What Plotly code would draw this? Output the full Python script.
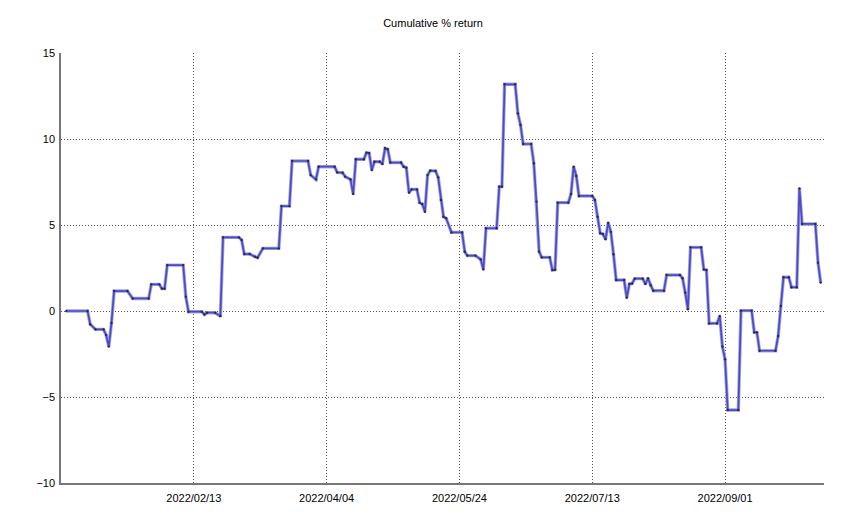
import plotly.graph_objects as go

dates = [
    "2021-12-27", "2022-01-04", "2022-01-05", "2022-01-07", "2022-01-10", "2022-01-11",
    "2022-01-12", "2022-01-13", "2022-01-14", "2022-01-19", "2022-01-21", "2022-01-27",
    "2022-01-28", "2022-01-31", "2022-02-01", "2022-02-02", "2022-02-03", "2022-02-09",
    "2022-02-10", "2022-02-11", "2022-02-16", "2022-02-17", "2022-02-18", "2022-02-21",
    "2022-02-23", "2022-02-24", "2022-03-02", "2022-03-03", "2022-03-04", "2022-03-06",
    "2022-03-08", "2022-03-09", "2022-03-11", "2022-03-17", "2022-03-18", "2022-03-21",
    "2022-03-22", "2022-03-28", "2022-03-29", "2022-03-31", "2022-04-01", "2022-04-07",
    "2022-04-08", "2022-04-10", "2022-04-11", "2022-04-13", "2022-04-14", "2022-04-15",
    "2022-04-18", "2022-04-19", "2022-04-20", "2022-04-21", "2022-04-22", "2022-04-24",
    "2022-04-25", "2022-04-26", "2022-04-27", "2022-04-28", "2022-05-02", "2022-05-03",
    "2022-05-04", "2022-05-05", "2022-05-06", "2022-05-08", "2022-05-09", "2022-05-10",
    "2022-05-11", "2022-05-12", "2022-05-13", "2022-05-15", "2022-05-16", "2022-05-17",
    "2022-05-18", "2022-05-19", "2022-05-21", "2022-05-25", "2022-05-26", "2022-05-27",
    "2022-05-30", "2022-06-01", "2022-06-02", "2022-06-03", "2022-06-07", "2022-06-08",
    "2022-06-09", "2022-06-10", "2022-06-14", "2022-06-15", "2022-06-16", "2022-06-17",
    "2022-06-20", "2022-06-21", "2022-06-22", "2022-06-23", "2022-06-24", "2022-06-27",
    "2022-06-28", "2022-06-29", "2022-06-30", "2022-07-04", "2022-07-05", "2022-07-06",
    "2022-07-07", "2022-07-08", "2022-07-13", "2022-07-14", "2022-07-15", "2022-07-16",
    "2022-07-17", "2022-07-18", "2022-07-19", "2022-07-20", "2022-07-21", "2022-07-22",
    "2022-07-25", "2022-07-26", "2022-07-27", "2022-07-28", "2022-07-29", "2022-08-01",
    "2022-08-02", "2022-08-03", "2022-08-04", "2022-08-05", "2022-08-09", "2022-08-10",
    "2022-08-15", "2022-08-16", "2022-08-17", "2022-08-18", "2022-08-19", "2022-08-23",
    "2022-08-24", "2022-08-25", "2022-08-26", "2022-08-29", "2022-08-30", "2022-08-31",
    "2022-09-01", "2022-09-02", "2022-09-06", "2022-09-07", "2022-09-11", "2022-09-12",
    "2022-09-13", "2022-09-14", "2022-09-20", "2022-09-21", "2022-09-22", "2022-09-23",
    "2022-09-25", "2022-09-26", "2022-09-28", "2022-09-29", "2022-09-30", "2022-10-05",
    "2022-10-06", "2022-10-07",
]

returns = [
    0.0, 0.0, -0.77, -1.07, -1.07, -1.4,
    -2.07, -0.7, 1.16, 1.16, 0.73, 0.73,
    1.55, 1.55, 1.3, 1.3, 2.67, 2.67,
    0.83, -0.04, -0.04, -0.2, -0.1, -0.1,
    -0.3, 4.28, 4.28, 4.13, 3.31, 3.31,
    3.16, 3.1, 3.64, 3.64, 6.1, 6.1,
    8.72, 8.72, 7.9, 7.65, 8.39, 8.39,
    8.06, 8.04, 7.81, 7.65, 6.8, 8.82,
    8.82, 9.2, 9.18, 8.2, 8.68, 8.68,
    8.55, 9.46, 9.4, 8.63, 8.63, 8.39,
    8.33, 6.88, 7.07, 7.07, 6.3, 6.22,
    5.77, 7.9, 8.16, 8.14, 7.77, 6.45,
    5.48, 5.39, 4.57, 4.57, 3.45, 3.22,
    3.22, 3.0, 2.42, 4.81, 4.81, 7.23,
    7.23, 13.18, 13.18, 11.49, 10.81, 9.71,
    9.71, 8.59, 6.36, 3.45, 3.12, 3.12,
    2.38, 2.4, 6.3, 6.3, 6.8, 8.39,
    7.85, 6.69, 6.69, 6.45, 5.48, 4.52,
    4.48, 4.17, 5.13, 4.6, 3.3, 1.8,
    1.8, 0.77, 1.57, 1.6, 1.88, 1.88,
    1.57, 1.9, 1.5, 1.18, 1.18, 2.09,
    2.09, 1.9, 1.07, 0.1, 3.7, 3.7,
    2.42, 2.38, -0.72, -0.72, -0.29, -2.07,
    -2.81, -5.76, -5.76, 0.02, 0.02, -1.24,
    -1.24, -2.31, -2.31, -1.45, 0.29, 1.96,
    1.96, 1.38, 1.38, 7.13, 5.06, 5.06,
    2.81, 1.65,
]

x_tick_dates = ["2022-02-13", "2022-04-04", "2022-05-24", "2022-07-13", "2022-09-01"]
x_tick_labels = ["2022/02/13", "2022/04/04", "2022/05/24", "2022/07/13", "2022/09/01"]
y_ticks = [-10, -5, 0, 5, 10, 15]

fig = go.Figure()
fig.add_trace(go.Scatter(
    x=dates, y=returns, mode="lines",
    line=dict(color="#a4a4e0", width=3.4),
    hoverinfo="skip", showlegend=False,
))
fig.add_trace(go.Scatter(
    x=dates, y=returns, mode="lines+markers",
    line=dict(color="#4a4ac4", width=1.7),
    marker=dict(color="#2a2a50", size=2.4),
    showlegend=False,
))

grid = dict(showgrid=True, gridcolor="#555555", griddash="1px,2px", gridwidth=1)
fig.update_layout(
    width=850, height=528,
    margin=dict(l=53, r=34, t=45, b=53, autoexpand=False),
    paper_bgcolor="white", plot_bgcolor="white",
    font=dict(family="Liberation Sans, Arial, sans-serif", size=11, color="#000000"),
    title=dict(text="Cumulative % return", x=0.5, xanchor="center",
               y=1 - 15 / 528, yanchor="middle", automargin=False,
               font=dict(size=11, color="#000000")),
    xaxis=dict(
        type="date", range=["2021-12-25", "2022-10-08 06:00"],
        tickvals=x_tick_dates, ticktext=x_tick_labels,
        showline=True, linecolor="#777777", linewidth=1.5,
        ticks="", ticklabelstandoff=4, zeroline=False, automargin=False, **grid,
    ),
    yaxis=dict(
        range=[-10, 15], tickvals=y_ticks,
        showline=True, linecolor="#777777", linewidth=1.5,
        ticks="", ticklabelstandoff=2, zeroline=False, automargin=False, **grid,
    ),
)

fig.write_html("out.html")
